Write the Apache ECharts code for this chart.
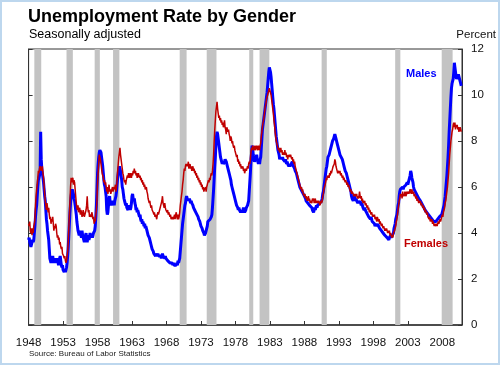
<!DOCTYPE html>
<html><head><meta charset="utf-8">
<script src="https://cdn.jsdelivr.net/npm/echarts@6/dist/echarts.min.js"></script>
<style>html,body{margin:0;padding:0;background:#fff;}#c{width:500px;height:365px;}</style>
</head><body><div id="c"></div>
<script>
// Monthly data, first observation January 1948
const startYear = 1948;
const males = [
3.7,3.8,3.6,3.5,3.4,3.4,3.6,3.7,3.6,3.7,4.0,4.3,
4.7,5.0,5.2,5.6,6.0,6.3,6.4,6.5,6.6,8.4,7.2,6.8,
6.6,6.4,6.2,5.9,5.6,5.4,5.0,4.6,4.4,4.1,3.9,3.7,
3.3,2.9,2.8,2.7,2.8,2.9,3.0,2.8,2.7,2.9,2.8,2.7,
2.8,2.7,2.9,2.8,2.6,2.7,2.9,3.0,2.8,2.6,2.5,2.6,
2.4,2.4,2.3,2.4,2.3,2.4,2.5,2.7,3.0,3.4,3.9,4.4,
4.9,5.3,5.6,5.8,5.9,5.8,5.7,5.5,5.4,5.2,5.0,4.8,
4.5,4.3,4.1,4.0,3.9,4.0,4.1,3.9,3.8,4.1,3.9,3.8,
3.7,3.6,3.8,3.9,4.0,3.7,3.6,3.8,3.9,3.7,3.8,4.0,
3.9,3.8,3.9,3.8,3.9,4.0,4.0,4.1,4.3,4.7,5.2,5.9,
6.6,7.0,7.3,7.5,7.6,7.6,7.5,7.3,7.1,6.9,6.6,6.3,
6.1,6.0,6.0,5.6,5.0,4.8,4.9,5.2,5.5,5.6,5.3,5.2,
5.3,5.4,5.3,5.2,5.4,5.2,5.4,5.5,5.6,5.8,6.1,6.4,
6.6,6.8,6.9,6.9,6.7,6.5,6.3,6.0,5.9,5.7,5.5,5.4,
5.3,5.2,5.3,5.1,5.1,5.0,5.1,5.2,5.1,5.0,5.1,5.3,
5.6,5.7,5.5,5.4,5.5,5.3,5.2,5.0,5.1,4.9,5.0,4.9,
4.8,4.7,4.8,4.6,4.5,4.6,4.4,4.5,4.4,4.3,4.4,4.2,
4.3,4.2,4.1,4.1,3.9,3.9,3.8,3.7,3.6,3.5,3.4,3.3,
3.3,3.2,3.1,3.1,3.1,3.0,3.1,3.1,3.0,3.1,3.0,3.0,
3.0,3.0,3.0,2.9,3.0,3.1,3.0,3.0,3.0,2.9,3.0,2.9,
2.9,2.9,2.8,2.8,2.8,2.8,2.7,2.7,2.7,2.7,2.7,2.6,
2.7,2.6,2.6,2.6,2.6,2.6,2.7,2.6,2.8,2.7,2.8,2.9,
3.2,3.5,3.8,4.1,4.4,4.6,4.8,5.0,5.2,5.3,5.5,5.6,
5.5,5.4,5.5,5.4,5.5,5.4,5.3,5.4,5.3,5.3,5.2,5.1,
5.1,5.0,5.0,4.9,4.9,4.8,4.8,4.7,4.6,4.6,4.5,4.4,
4.3,4.3,4.2,4.1,4.1,4.0,3.9,3.9,4.0,4.1,4.2,4.3,
4.5,4.5,4.5,4.5,4.6,4.6,4.7,4.8,5.1,5.5,5.9,6.4,
6.9,7.3,7.8,8.2,8.4,8.3,8.1,7.9,7.7,7.5,7.3,7.2,
7.1,7.0,7.1,7.0,7.0,7.1,7.2,7.2,7.1,7.0,6.9,6.8,
6.7,6.6,6.5,6.4,6.3,6.1,6.0,5.9,5.8,5.7,5.6,5.5,
5.4,5.3,5.2,5.2,5.1,5.0,5.1,5.0,5.0,4.9,5.0,4.9,
4.9,5.0,5.1,5.0,4.9,4.9,5.0,5.1,5.1,5.2,5.3,5.4,
5.8,6.2,6.6,7.1,7.5,7.8,7.7,7.4,7.2,7.1,7.1,7.2,
7.3,7.4,7.2,7.1,7.0,7.1,7.0,7.2,7.3,7.7,8.1,8.5,
8.7,8.9,9.1,9.3,9.5,9.7,9.9,10.1,10.4,10.7,11.0,11.2,
11.2,11.0,10.8,10.5,10.2,9.9,9.6,9.4,9.1,8.8,8.5,8.2,
8.0,7.8,7.6,7.5,7.4,7.2,7.3,7.2,7.3,7.2,7.3,7.2,
7.2,7.2,7.1,7.2,7.1,7.0,7.1,7.0,7.0,6.9,7.0,6.9,
6.9,7.0,7.0,7.1,7.0,6.9,6.9,6.8,6.7,6.7,6.6,6.5,
6.4,6.3,6.2,6.1,6.0,6.0,5.9,5.9,5.8,5.8,5.7,5.7,
5.6,5.6,5.5,5.4,5.4,5.4,5.3,5.3,5.3,5.2,5.2,5.2,
5.2,5.1,5.0,5.0,4.9,5.0,5.1,5.0,5.1,5.2,5.1,5.2,
5.2,5.2,5.2,5.3,5.3,5.3,5.4,5.5,5.7,5.8,6.0,6.2,
6.4,6.6,6.8,6.9,7.1,7.3,7.3,7.4,7.5,7.6,7.7,7.8,
7.9,8.0,8.0,8.1,8.2,8.3,8.2,8.1,8.0,7.9,7.8,7.7,
7.6,7.5,7.4,7.4,7.3,7.3,7.2,7.1,7.0,6.9,6.8,6.7,
6.7,6.6,6.5,6.4,6.3,6.2,6.1,6.0,5.9,5.8,5.6,5.5,
5.5,5.4,5.5,5.6,5.5,5.4,5.5,5.4,5.4,5.3,5.4,5.4,
5.3,5.4,5.3,5.2,5.3,5.2,5.1,5.1,5.0,5.1,5.0,5.0,
4.9,4.9,4.8,4.8,4.7,4.7,4.7,4.6,4.7,4.6,4.5,4.5,
4.5,4.5,4.4,4.3,4.3,4.4,4.4,4.3,4.4,4.3,4.3,4.2,
4.2,4.2,4.1,4.1,4.1,4.0,4.0,4.0,3.9,3.9,3.9,3.9,
3.8,3.8,3.8,3.7,3.8,3.8,3.9,3.8,3.8,3.9,3.9,4.0,
4.2,4.3,4.4,4.6,4.7,4.8,5.0,5.2,5.3,5.6,5.8,5.9,
5.9,5.9,5.9,6.0,5.9,6.0,6.0,6.0,6.0,6.1,6.1,6.2,
6.1,6.2,6.3,6.4,6.5,6.7,6.6,6.4,6.3,6.2,6.0,5.9,
5.9,5.8,5.8,5.7,5.7,5.6,5.6,5.5,5.5,5.5,5.4,5.4,
5.3,5.3,5.2,5.2,5.1,5.1,5.0,5.0,5.0,4.9,4.9,4.9,
4.8,4.8,4.8,4.7,4.7,4.7,4.6,4.6,4.6,4.5,4.5,4.5,
4.5,4.5,4.5,4.5,4.6,4.6,4.6,4.7,4.7,4.7,4.7,4.8,
4.9,5.0,5.1,5.2,5.4,5.6,5.9,6.2,6.5,6.9,7.3,7.8,
8.4,8.9,9.4,9.9,10.3,10.5,10.6,10.7,11.0,11.4,11.2,11.0,
10.8,10.7,10.7,10.8,10.9,10.8,10.7,10.6,10.5,10.4,10.4
];
const females = [
4.4,4.3,4.5,4.1,4.0,4.2,3.9,4.2,4.0,4.3,4.4,4.6,
5.2,5.6,5.9,6.1,6.4,6.7,6.6,6.8,6.9,6.9,6.7,6.8,
6.9,6.6,6.4,6.1,5.7,5.4,5.2,5.0,5.3,5.1,4.9,5.1,
4.8,4.6,4.7,4.4,4.6,4.5,4.7,4.4,4.1,4.3,4.2,4.4,
4.3,4.0,3.8,3.9,3.7,3.8,3.5,3.6,3.4,3.3,3.4,3.1,
3.1,3.0,2.9,3.0,2.8,2.7,2.8,3.0,3.2,3.6,4.2,4.8,
5.4,6.0,6.4,6.2,6.3,6.4,6.1,6.3,6.2,5.9,5.6,5.3,
5.1,5.0,5.2,4.9,5.0,5.1,4.8,5.0,4.9,4.7,4.8,5.0,
5.0,4.7,4.8,4.9,5.0,5.2,5.6,5.1,4.9,5.0,4.7,4.8,
4.8,4.7,4.9,4.8,4.6,4.7,4.4,4.6,4.5,4.8,5.0,5.4,
6.2,6.6,7.0,7.4,7.3,7.2,7.0,6.8,6.6,6.5,6.4,6.2,
6.3,6.1,6.2,6.0,5.8,6.0,5.7,5.9,6.1,5.8,5.9,5.7,
5.8,5.9,6.0,5.8,5.9,6.0,5.9,6.1,5.8,6.0,6.3,6.7,
7.0,7.3,7.5,7.7,7.4,7.2,7.0,6.8,6.6,6.5,6.3,6.2,
6.3,6.1,6.3,6.4,6.5,6.4,6.6,6.5,6.4,6.6,6.5,6.4,
6.6,6.5,6.7,6.6,6.8,6.6,6.7,6.5,6.6,6.4,6.5,6.6,
6.5,6.4,6.5,6.3,6.4,6.2,6.3,6.1,6.2,6.0,6.1,5.9,
5.9,6.0,5.8,5.7,5.5,5.4,5.3,5.4,5.2,5.1,5.2,5.0,
5.0,4.9,4.8,4.9,4.7,4.8,4.7,4.6,4.8,4.9,4.8,4.9,
5.0,5.1,5.2,5.3,5.4,5.6,5.3,5.2,5.1,5.3,5.1,5.0,
5.0,4.9,5.0,4.8,4.9,4.8,4.7,4.8,4.6,4.7,4.6,4.7,
4.6,4.7,4.8,4.6,4.8,4.9,4.7,4.6,4.8,4.6,4.7,4.9,
5.2,5.4,5.6,5.8,6.1,6.3,6.6,6.8,6.7,6.9,7.0,6.9,
7.0,6.9,7.1,6.8,6.9,7.0,6.8,6.9,6.7,6.8,6.9,6.7,
6.8,6.6,6.7,6.5,6.6,6.4,6.5,6.3,6.4,6.2,6.3,6.1,
6.2,6.0,6.1,5.9,6.0,5.8,5.9,5.9,6.0,5.8,6.0,6.1,
6.2,6.3,6.2,6.4,6.3,6.5,6.6,6.5,6.7,7.0,7.4,8.0,
8.5,8.9,9.3,9.5,9.7,9.4,9.2,9.0,9.1,8.9,9.0,8.8,
8.9,8.7,8.8,8.6,8.7,8.9,8.6,8.5,8.3,8.6,8.5,8.4,
8.5,8.3,8.2,8.0,8.2,8.1,7.9,8.0,7.8,7.7,7.8,7.6,
7.5,7.4,7.3,7.4,7.1,7.2,7.0,7.1,6.9,7.0,6.8,6.9,
6.8,6.9,6.7,6.8,6.6,6.7,6.8,6.7,6.8,6.9,6.8,7.0,
7.1,7.0,7.2,7.5,7.7,7.6,7.8,7.7,7.6,7.7,7.8,7.6,
7.7,7.8,7.7,7.6,7.8,7.7,7.6,7.8,7.9,8.2,8.4,8.6,
8.8,8.9,9.1,9.3,9.5,9.6,9.8,9.9,10.0,10.1,10.2,10.3,
10.2,10.1,10.0,9.8,9.6,9.4,9.2,8.9,8.7,8.4,8.2,8.0,
7.9,7.8,7.7,7.6,7.7,7.5,7.6,7.7,7.5,7.6,7.4,7.5,
7.5,7.4,7.6,7.4,7.5,7.3,7.4,7.2,7.4,7.3,7.4,7.3,
7.4,7.3,7.2,7.3,7.1,7.2,7.0,7.1,6.9,6.8,6.7,6.6,
6.5,6.4,6.3,6.2,6.1,6.0,5.9,6.0,5.8,5.9,5.7,5.7,
5.6,5.7,5.5,5.6,5.5,5.4,5.5,5.6,5.4,5.5,5.3,5.4,
5.4,5.3,5.5,5.4,5.5,5.3,5.4,5.5,5.3,5.4,5.3,5.4,
5.3,5.4,5.3,5.2,5.3,5.4,5.3,5.4,5.6,5.7,5.9,6.0,
6.1,6.2,6.4,6.3,6.5,6.4,6.5,6.4,6.6,6.5,6.7,6.6,
6.7,6.8,6.9,6.9,7.0,7.2,7.1,6.9,6.8,6.7,6.6,6.7,
6.7,6.6,6.7,6.5,6.6,6.5,6.4,6.5,6.3,6.4,6.3,6.2,
6.3,6.2,6.1,6.2,6.0,6.1,6.0,5.9,5.8,5.9,5.7,5.8,
5.8,5.7,5.6,5.7,5.6,5.7,5.6,5.7,5.5,5.6,5.5,5.6,
5.8,5.6,5.5,5.6,5.4,5.5,5.3,5.4,5.3,5.4,5.2,5.3,
5.2,5.1,5.2,5.0,5.1,4.9,5.0,4.9,4.8,4.9,4.8,4.7,
4.8,4.7,4.8,4.6,4.7,4.6,4.5,4.7,4.6,4.5,4.6,4.4,
4.5,4.4,4.3,4.4,4.3,4.2,4.3,4.2,4.1,4.2,4.1,4.2,
4.1,4.0,4.1,4.0,4.1,3.9,4.0,3.9,3.8,3.9,3.8,4.0,
4.0,4.1,4.2,4.3,4.5,4.6,4.8,5.0,5.2,5.4,5.5,5.7,
5.6,5.7,5.5,5.8,5.6,5.7,5.6,5.8,5.7,5.6,5.8,5.7,
5.7,5.8,5.7,5.8,5.9,5.8,5.7,5.9,5.8,5.7,5.8,5.6,
5.7,5.6,5.5,5.6,5.4,5.5,5.4,5.3,5.4,5.3,5.4,5.2,
5.3,5.2,5.1,5.2,5.0,5.1,4.9,5.0,4.9,4.8,4.9,4.7,
4.7,4.6,4.7,4.5,4.6,4.5,4.6,4.4,4.5,4.4,4.3,4.4,
4.4,4.3,4.4,4.3,4.4,4.5,4.4,4.5,4.6,4.5,4.6,4.7,
4.8,4.7,4.9,5.0,5.1,5.3,5.4,5.6,5.8,6.0,6.3,6.6,
7.0,7.4,7.7,8.0,8.2,8.4,8.5,8.7,8.8,8.6,8.8,8.5,
8.7,8.6,8.7,8.5,8.6,8.4,8.5,8.6,8.5,8.4,8.4
];
// Recession periods (first month, last month)
const recessions = [
  ['1948-11','1949-10'],['1953-07','1954-05'],['1957-08','1958-04'],
  ['1960-04','1961-02'],['1969-12','1970-11'],['1973-11','1975-03'],
  ['1980-01','1980-07'],['1981-07','1982-11'],['1990-07','1991-03'],
  ['2001-03','2001-11'],['2007-12','2009-06']
];
const xTickYears = [1948,1953,1958,1963,1968,1973,1978,1983,1988,1993,1998,2003,2008];
const yTicks = [0,2,4,6,8,10,12];

function monthStart(s){const p=s.split('-');return +p[0]+(+p[1]-1)/12;}
function monthEnd(s){const p=s.split('-');return +p[0]+(+p[1])/12;}
const maleData = males.map((v,i)=>[startYear+i/12, v]);
const femaleData = females.map((v,i)=>[startYear+i/12, v]);
const areas = recessions.map(r=>[{xAxis:monthStart(r[0])},{xAxis:monthEnd(r[1])}]);

const chart = echarts.init(document.getElementById('c'), null, {renderer:'canvas'});
const FONT = 'Liberation Sans, Arial, sans-serif';
const axisCol = '#333';
chart.setOption({
  animation:false,
  backgroundColor:'#fff',
  textStyle:{fontFamily:FONT},
  grid:{left:28.6, right:38, top:49, bottom:40, show:true, borderColor:axisCol, borderWidth:1, backgroundColor:'transparent'},
  xAxis:{type:'value', min:xTickYears[0], max:2010.86, interval:5,
    axisLine:{show:true, lineStyle:{color:axisCol, width:1.5}},
    axisTick:{show:true, inside:true, length:4, lineStyle:{color:axisCol}},
    splitLine:{show:false},
    axisLabel:{color:'#111', fontSize:11.5, fontFamily:FONT, margin:12,
      formatter:v=>{const r=Math.round(v);return (Math.abs(v-r)<1e-6 && xTickYears.indexOf(r)>=0)?String(r):'';}}
  },
  yAxis:[
    {type:'value', position:'right', min:yTicks[0], max:yTicks[yTicks.length-1], interval:2,
      axisLine:{show:true, lineStyle:{color:axisCol}},
      axisTick:{show:true, inside:true, length:4, lineStyle:{color:axisCol}},
      splitLine:{show:false},
      axisLabel:{color:'#111', fontSize:11.5, fontFamily:FONT, margin:9}
    },
    {type:'value', position:'left', min:yTicks[0], max:yTicks[yTicks.length-1], interval:2,
      axisLine:{show:true, lineStyle:{color:axisCol}},
      axisTick:{show:true, inside:true, length:4, lineStyle:{color:axisCol}},
      splitLine:{show:false}, axisLabel:{show:false}
    }
  ],
  series:[
    {type:'line', name:'recessions', data:[], z:1, silent:true,
      markArea:{silent:true, itemStyle:{color:'#C3C3C3'}, data:areas}},
    {type:'line', name:'Males', data:maleData, showSymbol:false, symbol:'none', z:3,
      lineStyle:{color:'#0000FF', width:3}},
    {type:'line', name:'Females', data:femaleData, showSymbol:false, symbol:'none', z:4,
      lineStyle:{color:'#C00000', width:1.5}}
  ],
  graphic:[
    {type:'rect', z:100, shape:{x:1,y:1,width:498,height:363}, style:{fill:'none', stroke:'#BDD7EE', lineWidth:2}, silent:true},
    {type:'text', z:100, left:28, top:8, style:{text:'Unemployment Rate by Gender', font:'bold 18px '+FONT, fill:'#000'}},
    {type:'text', z:100, left:29, top:28, style:{text:'Seasonally adjusted', font:'12.5px '+FONT, fill:'#000'}},
    {type:'text', z:100, right:4, top:29, style:{text:'Percent', font:'11.5px '+FONT, fill:'#111'}},
    {type:'text', z:100, left:29, top:350, style:{text:'Source: Bureau of Labor Statistics', font:'8px '+FONT, fill:'#222'}},
    {type:'text', z:100, left:406, top:68, style:{text:'Males', font:'bold 11px '+FONT, fill:'#0000FF'}},
    {type:'text', z:100, left:404, top:238, style:{text:'Females', font:'bold 11px '+FONT, fill:'#C00000'}}
  ]
});
</script></body></html>
